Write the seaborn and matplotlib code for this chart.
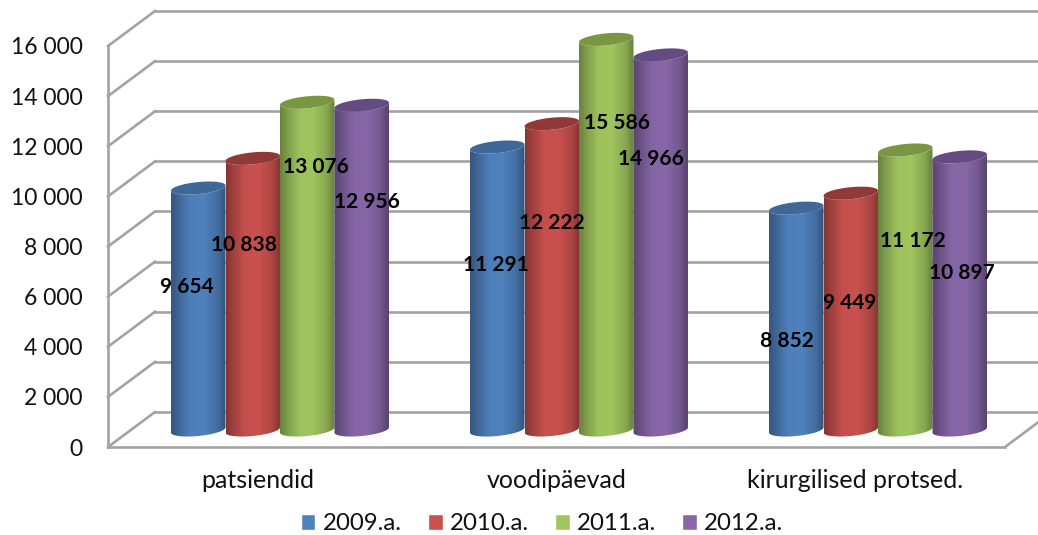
import numpy as np
import pandas as pd
import matplotlib
matplotlib.use("Agg")
import matplotlib.pyplot as plt
import seaborn as sns
from matplotlib.path import Path
from matplotlib.patches import PathPatch
from matplotlib.colors import to_rgb

categories = ["patsiendid", "voodipäevad", "kirurgilised protsed."]
years = ["2009.a.", "2010.a.", "2011.a.", "2012.a."]
values_2009 = [9654, 11291, 8852]
values_2010 = [10838, 12222, 9449]
values_2011 = [13076, 15586, 11172]
values_2012 = [12956, 14966, 10897]
y_ticks = [0, 2000, 4000, 6000, 8000, 10000, 12000, 14000, 16000]
colors = ["#4F81BD", "#C9514E", "#A0C55E", "#8767A8"]
cap_colors = ["#3F6896", "#8F3A38", "#7A9643", "#644C82"]

# label shift from each cylinder's top centre, in pixels (x right, y down); one row per year
label_dx = [[-11, -1, -9], [-9, 0, -1], [9, 11, 8], [5, -10, 2]]
label_dy = [[99, 118, 133], [87, 99, 110], [65, 84, 91], [97, 104, 116]]

sns.set_theme(style="white")
plt.rcParams["font.family"] = ["Lato", "DejaVu Sans"]

W, H = 1038, 535
fig = plt.figure(figsize=(W / 100, H / 100), dpi=100, facecolor="white")
ax = fig.add_axes([108 / W, (H - 447) / H, 897 / W, 401 / H])

px_x = 3 / 897          # category units per pixel
px_y = 16000 / 401      # value units per pixel

frame = pd.DataFrame({
    "category": categories * 4,
    "year": np.repeat(years, 3),
    "value": values_2009 + values_2010 + values_2011 + values_2012,
})
sns.barplot(data=frame, x="category", y="value", hue="year", palette=colors,
            width=0.729, gap=0, saturation=1, errorbar=None, ax=ax)

ax.set_xlim(-0.5, 2.5)
ax.set_ylim(0, 16000)
ax.set_xlabel("")
ax.set_ylabel("")
sns.despine(ax=ax, left=True, bottom=True)
ax.patch.set_visible(False)

# wall and floor of the 3-D box
wall = "#A3A3A3"
depth_x, depth_y = 47 * px_x, 35 * px_y
line = dict(color=wall, lw=1.9, clip_on=False, zorder=1, solid_capstyle="projecting")
for t in y_ticks:
    ax.plot([-0.5, -0.5 + depth_x], [t, t + depth_y], **line)
    ax.plot([-0.5 + depth_x, 2.5 + depth_x], [t + depth_y, t + depth_y], **line)
ax.plot([-0.5, -0.5], [0, 16000], **line)
ax.plot([-0.5, 2.5], [0, 0], **line)
ax.plot([2.5, 2.5 + depth_x], [0, depth_y], **line)

ax.set_yticks(y_ticks)
ax.set_yticklabels([f"{t:,}".replace(",", " ") for t in y_ticks])
ax.tick_params(axis="y", length=0, pad=18, labelsize=16.5, labelcolor="#111111")
ax.tick_params(axis="x", length=0, pad=16, labelsize=18, labelcolor="#111111")


def shade(rgb):
    """Horizontal shading across a cylinder, dark at both rims."""
    stops = [0, 0.12, 0.35, 0.6, 0.85, 1]
    gains = [0.66, 0.78, 0.98, 1.0, 0.85, 0.64]
    t = np.linspace(0, 1, 256)
    g = np.interp(t, stops, gains)
    return np.clip(np.outer(g, np.array(rgb)), 0, 1)[None, :, :]


base_x = 22.5 * px_x
base_y = 17 * px_y
tilt = 2.6 * px_y
minor = 6.0 * px_y
theta = np.linspace(np.pi, 2 * np.pi, 60)
z = 3

for s, container in enumerate(ax.containers):
    for c, bar in enumerate(container):
        bar.set_visible(False)
        x0 = bar.get_x() + base_x
        w = bar.get_width()
        h = bar.get_height()
        cx = x0 + w / 2
        a = w / 2
        top = h + base_y

        # outline of the side: bottom arc, then back along the lower arc of the cap
        xs_bot = cx + a * np.cos(theta)
        ys_bot = base_y + tilt * np.cos(theta) + minor * np.sin(theta)
        xs_top = cx + a * np.cos(theta[::-1])
        ys_top = top + tilt * np.cos(theta[::-1]) + minor * np.sin(theta[::-1])
        verts = np.column_stack([np.r_[xs_bot, xs_top], np.r_[ys_bot, ys_top]])
        verts = np.vstack([verts, verts[0]])
        body = PathPatch(Path(verts, closed=True), facecolor="none", edgecolor="none",
                         transform=ax.transData, clip_on=False, zorder=z)
        ax.add_patch(body)
        img = ax.imshow(shade(to_rgb(colors[s])), extent=(x0, x0 + w, -2000, 18000),
                        aspect="auto", interpolation="bilinear", zorder=z)
        img.set_clip_box(fig.bbox)
        img.set_clip_path(body)

        # elliptical cap
        ring = np.linspace(0, 2 * np.pi, 80)
        cap = np.column_stack([cx + a * np.cos(ring),
                               top + tilt * np.cos(ring) + minor * np.sin(ring)])
        ax.add_patch(PathPatch(Path(cap, closed=True), facecolor=cap_colors[s],
                               edgecolor="none", clip_on=False, zorder=z + 0.5))
        z += 1

        # value label
        ax.annotate(f"{int(h):,}".replace(",", " "), xy=(cx, top),
                    xytext=(label_dx[s][c], -label_dy[s][c]), textcoords="offset pixels",
                    ha="center", va="center", fontsize=15, fontweight="bold",
                    color="black", zorder=100, annotation_clip=False)

ax.set_xlim(-0.5, 2.5)
ax.set_ylim(0, 16000)

sns.move_legend(ax, "center", bbox_to_anchor=(434 / 897, -77 / 401), ncol=4, frameon=False,
                title=None, fontsize=17.3, handlelength=0.62, handleheight=0.62,
                handletextpad=0.3, columnspacing=1.08, labelcolor="#111111")

fig.savefig("out.png", dpi=100)
